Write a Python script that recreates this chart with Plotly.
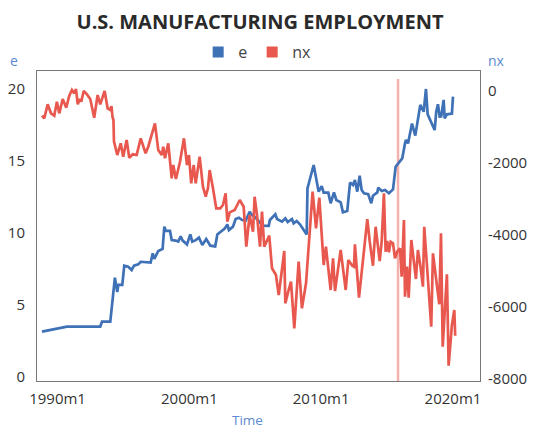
import plotly.graph_objects as go

# ---- data ----
e_time = [1988.82, 1990.71, 1993.24, 1993.37, 1994.00, 1994.35, 1994.53, 1994.61, 1994.91, 1995.06,
          1995.36, 1995.62, 1995.80, 1996.12, 1996.31, 1996.63, 1997.06, 1997.22, 1997.34, 1997.64,
          1997.97, 1998.10, 1998.22, 1998.53, 1998.66, 1998.96, 1999.16, 1999.34, 1999.49, 1999.74,
          1999.82, 2000.07, 2000.22, 2000.48, 2000.73, 2000.98, 2001.28, 2001.59, 2001.96, 2002.12,
          2002.42, 2002.68, 2002.88, 2003.00, 2003.31, 2003.51, 2003.76, 2004.01, 2004.27, 2004.57,
          2004.75, 2005.03, 2005.30, 2005.56, 2006.02, 2006.11, 2006.52, 2006.65, 2007.03, 2007.28,
          2007.46, 2007.78, 2007.91, 2008.14, 2008.39, 2008.64, 2008.90, 2008.96, 2009.43, 2009.81,
          2010.04, 2010.19, 2010.54, 2010.72, 2010.97, 2011.15, 2011.48, 2011.65, 2011.98, 2012.19,
          2012.41, 2012.56, 2012.74, 2012.92, 2013.07, 2013.25, 2013.57, 2013.80, 2013.93, 2014.26,
          2014.33, 2014.59, 2014.84, 2015.14, 2015.45, 2015.65, 2015.90, 2016.15, 2016.36, 2016.43,
          2016.59, 2016.89, 2017.14, 2017.34, 2017.52, 2017.78, 2017.95, 2018.08, 2018.35, 2018.61,
          2018.73, 2018.86, 2018.99, 2019.11, 2019.29, 2019.37, 2019.54, 2019.79, 2019.92, 2020.00]
e_values = [3.15, 3.5, 3.5, 3.84, 3.84, 6.9, 5.9, 6.4, 6.4, 7.73,
            7.66, 7.43, 7.73, 7.82, 8.0, 7.96, 7.94, 8.59, 8.2, 8.75,
            8.89, 10.44, 10.14, 10.14, 9.51, 9.47, 9.4, 9.77, 9.47, 9.28,
            9.2, 9.9, 9.4, 9.5, 9.68, 9.17, 9.58, 9.12, 9.07, 9.9,
            10.1, 10.3, 10.6, 10.2, 10.44, 10.97, 11.06, 10.9, 10.85, 11.48,
            11.25, 11.06, 10.79, 10.51, 10.5, 10.9, 11.3, 10.97, 10.79, 11.02,
            10.76, 10.97, 10.67, 10.83, 10.6, 10.28, 9.9, 13.1, 14.72, 12.87,
            13.26, 12.8, 12.8, 12.06, 12.82, 12.29, 12.13, 11.44, 11.53, 13.5,
            13.33, 13.68, 12.87, 13.98, 12.99, 12.76, 12.69, 12.06, 12.59, 12.82,
            13.15, 12.92, 12.99, 12.76, 13.03, 14.6, 14.9, 15.18, 16.22, 16.46,
            16.22, 17.6, 16.76, 17.96, 18.89, 18.42, 20.0, 18.24, 17.73, 17.15,
            18.42, 18.94, 18.08, 18.1, 19.24, 17.96, 18.24, 18.31, 18.3, 19.47]

nx_time = [1988.82, 1988.99, 1989.25, 1989.50, 1989.75, 1989.95, 1990.13, 1990.39, 1990.66, 1990.89,
           1991.09, 1991.27, 1991.40, 1991.53, 1991.68, 1991.80, 1991.98, 1992.23, 1992.48, 1992.78,
           1993.04, 1993.24, 1993.57, 1993.80, 1993.98, 1994.09, 1994.17, 1994.24, 1994.28, 1994.53,
           1994.79, 1994.98, 1995.24, 1995.44, 1995.70, 1996.00, 1996.31, 1996.50, 1996.68, 1996.88,
           1997.14, 1997.39, 1997.64, 1997.90, 1998.02, 1998.15, 1998.40, 1998.66, 1998.78, 1998.98,
           1999.29, 1999.59, 1999.82, 1999.97, 2000.14, 2000.33, 2000.48, 2000.78, 2001.03, 2001.24,
           2001.41, 2001.54, 2001.79, 2002.04, 2002.34, 2002.55, 2002.75, 2002.88, 2003.06, 2003.44,
           2003.82, 2004.12, 2004.32, 2004.57, 2004.83, 2004.95, 2005.13, 2005.36, 2005.51, 2005.68,
           2006.06, 2006.27, 2006.57, 2006.78, 2007.20, 2007.28, 2007.50, 2007.71, 2007.96, 2008.29,
           2008.54, 2008.85, 2009.35, 2009.61, 2009.86, 2010.19, 2010.36, 2010.72, 2010.90, 2011.05,
           2011.48, 2011.86, 2012.06, 2012.36, 2012.49, 2012.56, 2012.87, 2013.32, 2013.50, 2013.68,
           2013.93, 2014.13, 2014.44, 2014.59, 2014.76, 2014.89, 2015.01, 2015.14, 2015.27, 2015.45,
           2015.60, 2015.77, 2015.98, 2016.11, 2016.28, 2016.36, 2016.51, 2016.64, 2016.84, 2017.19,
           2017.34, 2017.52, 2017.72, 2017.82, 2018.35, 2018.48, 2018.79, 2018.96, 2019.09, 2019.22,
           2019.54, 2019.67, 2019.92, 2020.10, 2020.17]
nx_values = [-686, -759, -370, -620, -686, -296, -620, -222, -463, -130,
             28, -65, 55, -370, -222, -296, 0, -93, -222, -741,
             -111, -370, 0, -481, -520, -420, -730, -800, -1400, -1778,
             -1453, -1825, -1361, -1853, -1758, -1778, -1314, -1520, -1731, -1547,
             -1222, -897, -1639, -1778, -1547, -1870, -1453, -2425, -2056, -2445,
             -1964, -1314, -2056, -1778, -2565, -2056, -2565, -1825, -2658, -2936,
             -2704, -2195, -2704, -3259, -3259, -3167, -2843, -3630, -3371, -3306,
             -3028, -3214, -4325, -3445, -3908, -2936, -3445, -4325, -3352, -4325,
             -4019, -4925, -5111, -5667, -4445, -5898, -5575, -5297, -6592, -4742,
             -6037, -5342, -2797, -3814, -2964, -4834, -4325, -5528, -4648, -5556,
             -4417, -5528, -4695, -4853, -4880, -4259, -5742, -4231, -3556, -4167,
             -4853, -3770, -4723, -4186, -2843, -4464, -4167, -4482, -4186, -4231,
             -4648, -4464, -4370, -5158, -3584, -5714, -4880, -5742, -4139, -5222,
             -4417, -4834, -5436, -3770, -6548, -4509, -5342, -5926, -3953, -7103,
             -5093, -7631, -6500, -6084, -6797]

event_time = 2015.83

x_tickvals = [1990, 2000, 2010, 2020]
x_ticktext = ["1990m1", "2000m1", "2010m1", "2020m1"]
left_tickvals = [0, 5, 10, 15, 20]
right_tickvals = [0, -2000, -4000, -6000, -8000]
right_ticktext = ["0", "-2000", "-4000", "-6000", "-8000"]

BLUE = "#3f71b6"
RED = "#e8584f"
AXIS_BLUE = "#5b8ad0"
FONT = "Open Sans"

fig = go.Figure()
fig.add_trace(go.Scatter(x=e_time, y=e_values, mode="lines", name="e",
                         line=dict(color=BLUE, width=2.7), showlegend=False, yaxis="y"))
fig.add_trace(go.Scatter(x=nx_time, y=nx_values, mode="lines", name="nx",
                         line=dict(color=RED, width=2.7), showlegend=False, yaxis="y2"))
# legend entries (square swatches)
fig.add_trace(go.Scatter(x=[None], y=[None], mode="markers", name="e",
                         marker=dict(symbol="square", size=11, color=BLUE)))
fig.add_trace(go.Scatter(x=[None], y=[None], mode="markers", name="nx",
                         marker=dict(symbol="square", size=11, color=RED)))

fig.add_shape(type="line", xref="x", yref="paper", x0=event_time, x1=event_time,
              y0=0, y1=0.974, line=dict(color="#f4b0ab", width=2.5), layer="below")

# the page body adds an 8px offset, so the figure is 8px smaller and margins are shifted
fig.update_layout(
    width=530, height=421,
    margin=dict(l=29, r=58, t=63, b=48, autoexpand=False),
    paper_bgcolor="white", plot_bgcolor="white",
    font=dict(family=FONT, size=15, color="#333333"),
    title=dict(text="<b>U.S. MANUFACTURING EMPLOYMENT</b>", x=0.4755, xanchor="center",
               y=0.967, yanchor="middle", font=dict(family=FONT, size=20, color="#2a2a2a")),
    legend=dict(orientation="h", x=0.497, xanchor="center", y=1.061, yanchor="middle",
                font=dict(size=16, color="#444444"), itemwidth=30, bgcolor="rgba(0,0,0,0)"),
    xaxis=dict(range=[1988.44, 2022.05], tickvals=x_tickvals, ticktext=x_ticktext,
               showgrid=False, zeroline=False, showline=True, linecolor="#777777", linewidth=1,
               mirror=True, ticks="", ticklabelstandoff=4, automargin=False),
    yaxis=dict(range=[-0.28, 21.25], tickvals=left_tickvals, showgrid=False, zeroline=False,
               showline=True, linecolor="#777777", linewidth=1, mirror=True, ticks="",
               ticklabelstandoff=8, automargin=False),
    yaxis2=dict(range=[-8056, 556], tickvals=right_tickvals, ticktext=right_ticktext,
                overlaying="y", side="right", automargin=False,
                showgrid=False, zeroline=False, showline=False, ticks="", ticklabelstandoff=7),
    annotations=[
        dict(text="e", xref="paper", yref="paper", x=-0.053, y=1.035, showarrow=False,
             xanchor="center", yanchor="middle", font=dict(size=14, color=AXIS_BLUE)),
        dict(text="nx", xref="paper", yref="paper", x=1.038, y=1.035, showarrow=False,
             xanchor="center", yanchor="middle", font=dict(size=14, color=AXIS_BLUE)),
        dict(text="Time", xref="paper", yref="paper", x=0.476, y=-0.126, showarrow=False,
             xanchor="center", yanchor="middle", font=dict(size=13.5, color=AXIS_BLUE)),
    ],
)

fig.write_html("out.html")
